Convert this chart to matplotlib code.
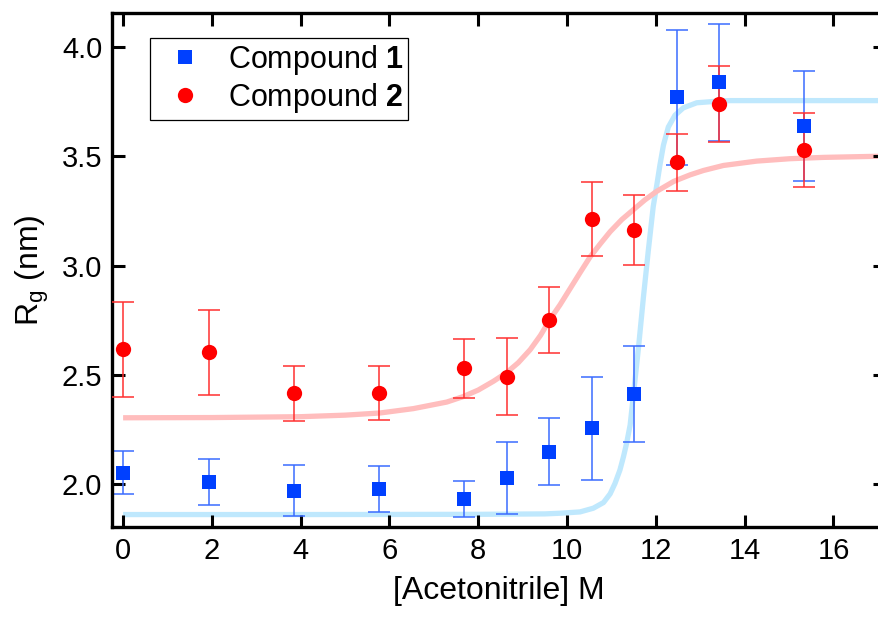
import numpy as np
import matplotlib
matplotlib.use("Agg")
import matplotlib.pyplot as plt
from matplotlib.lines import Line2D

plt.rcParams["font.family"] = ["Liberation Sans", "DejaVu Sans"]
plt.rcParams["mathtext.fontset"] = "custom"
plt.rcParams["mathtext.rm"] = "Liberation Sans"
plt.rcParams["mathtext.bf"] = "Liberation Sans:bold"

# acetonitrile concentration (M)
conc = [0.0, 1.94, 3.84, 5.77, 7.68, 8.65, 9.60, 10.56, 11.51, 12.48, 13.42, 15.34]

# radius of gyration (nm) and uncertainties
rg_1 = [2.052, 2.008, 1.969, 1.977, 1.930, 2.026, 2.148, 2.255, 2.410, 3.770, 3.838, 3.639]
err_1 = [0.10, 0.105, 0.117, 0.107, 0.083, 0.165, 0.155, 0.235, 0.22, 0.31, 0.268, 0.25]
rg_2 = [2.616, 2.602, 2.416, 2.416, 2.529, 2.491, 2.750, 3.212, 3.163, 3.472, 3.739, 3.530]
err_2 = [0.217, 0.194, 0.126, 0.122, 0.136, 0.175, 0.152, 0.17, 0.16, 0.13, 0.175, 0.17]

# sigmoid fits, sampled along each curve
fit1_x = [0.0, 4.0, 8.0, 9.5, 9.84, 10.29, 10.59, 10.82, 10.97, 11.08, 11.19, 11.27,
          11.34, 11.42, 11.50, 11.61, 11.72, 11.83, 11.94, 12.02, 12.09, 12.17, 12.28,
          12.43, 12.62, 12.92, 13.37, 13.67, 15.5, 17.3]
fit1_y = [1.860, 1.860, 1.861, 1.863, 1.866, 1.872, 1.889, 1.915, 1.955, 2.003, 2.064, 2.125,
          2.186, 2.270, 2.420, 2.628, 2.857, 3.070, 3.270, 3.368, 3.459, 3.551, 3.634,
          3.688, 3.722, 3.745, 3.752, 3.755, 3.755, 3.755]
fit2_x = [0.0, 2.0, 4.0, 5.0, 5.79, 6.54, 7.29, 7.66, 8.0, 8.34, 8.64, 8.9, 9.17, 9.4,
          9.62, 9.84, 10.07, 10.3, 10.52, 10.75, 10.97, 11.23, 11.49, 11.75, 12.02, 12.4,
          12.77, 13.07, 13.52, 14.27, 15.02, 15.77, 16.97, 17.3]
fit2_y = [2.303, 2.304, 2.308, 2.315, 2.325, 2.345, 2.375, 2.400, 2.430, 2.470, 2.510, 2.555,
          2.615, 2.680, 2.755, 2.820, 2.895, 2.970, 3.040, 3.100, 3.155, 3.210, 3.255, 3.300,
          3.340, 3.385, 3.415, 3.435, 3.458, 3.478, 3.489, 3.495, 3.500, 3.500]

W, H = 879, 618
fig = plt.figure(figsize=(W / 100, H / 100), dpi=100)
ax = fig.add_axes([112 / W, 1 - 527 / H, (885 - 112) / W, (527 - 13) / H])

ax.plot(fit1_x, fit1_y, color="#bfe8fd", lw=3.8, solid_capstyle="butt",
        solid_joinstyle="round", zorder=1)
ax.plot(fit2_x, fit2_y, color="#ffbdbd", lw=3.8, solid_capstyle="butt",
        solid_joinstyle="round", zorder=1)

ax.errorbar(conc, rg_1, yerr=err_1, fmt="none", ecolor="#3a6cff", elinewidth=1.1,
            capsize=8, capthick=1.1, zorder=2)
ax.errorbar(conc, rg_2, yerr=err_2, fmt="none", ecolor="#ff3030", elinewidth=1.1,
            capsize=8, capthick=1.1, zorder=3)
ax.plot(conc, rg_1, "s", color="#0040ff", ms=10.5, mew=0, zorder=4)
ax.plot(conc, rg_2, "o", color="#ff0000", ms=11, mew=0, zorder=5)

ax.set_xlim(-0.25, 17.16)
ax.set_ylim(1.803, 4.156)
ax.set_xticks(range(0, 17, 2))
ax.set_yticks([2.0, 2.5, 3.0, 3.5, 4.0])
ax.set_yticklabels(["2.0", "2.5", "3.0", "3.5", "4.0"])
ax.tick_params(direction="in", length=9, width=2.2, labelsize=21,
               top=True, right=True, pad=7)
for s in ax.spines.values():
    s.set_linewidth(2.4)

ax.set_xlabel("[Acetonitrile] M", fontsize=23, labelpad=8)
ax.set_ylabel("R$_\\mathregular{g}$ (nm)", fontsize=23, labelpad=8)

handles = [
    Line2D([], [], marker="s", ls="none", color="#0040ff", ms=10.5, mew=0),
    Line2D([], [], marker="o", ls="none", color="#ff0000", ms=11, mew=0),
]
leg = ax.legend(handles, ["Compound $\\mathbf{1}$", "Compound $\\mathbf{2}$"],
                loc="upper left", bbox_to_anchor=(150 / W, 1 - 38 / H),
                bbox_transform=fig.transFigure, borderaxespad=0,
                fontsize=22, frameon=True, fancybox=False, framealpha=1,
                edgecolor="black", handlelength=2.0, handletextpad=0.4,
                borderpad=0.15, labelspacing=0.15)
leg.get_frame().set_linewidth(0.9)

fig.savefig("out.png", dpi=100)
